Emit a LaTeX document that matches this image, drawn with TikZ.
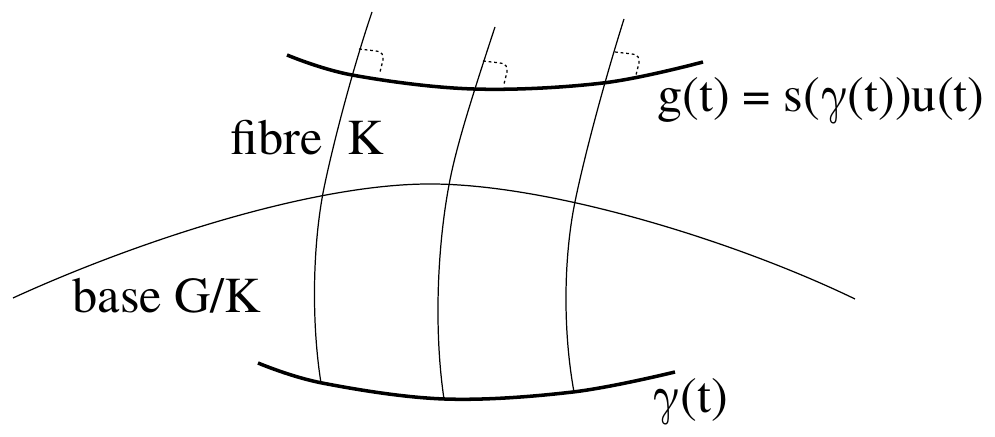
\documentclass[tikz,border=0pt]{standalone}
\usepackage{fontspec}
\newfontfamily\lblfont{texgyretermes-regular.otf}

\tikzset{
  curvebold/.style={line width=1pt},
  fibreline/.style={line width=0.35pt},
  rightmark/.style={line width=0.35pt, dash pattern=on 0.8pt off 0.8pt},
  lbl/.style={inner sep=0pt, anchor=base west, font=\lblfont\fontsize{14.3}{17}\selectfont}
}

\begin{document}
\begin{tikzpicture}
    \useasboundingbox (0,0) rectangle (9.95,4.37);

    % base G/K
    \draw[fibreline] (0.13,1.39) .. controls (1.33,1.94) and (3.10,2.53) .. (4.30,2.53)
        .. controls (5.50,2.53) and (7.35,1.96) .. (8.55,1.38);

    % the three fibres
    \draw[fibreline] (3.72,4.25) .. controls (3.50,3.60) and (3.30,2.80) .. (3.23,2.44)
        .. controls (3.12,1.85) and (3.12,1.10) .. (3.21,0.54);
    \draw[fibreline] (4.95,4.10) .. controls (4.72,3.40) and (4.56,2.90) .. (4.49,2.52)
        .. controls (4.37,1.88) and (4.34,1.05) .. (4.44,0.38);
    \draw[fibreline] (6.24,4.18) .. controls (6.02,3.48) and (5.84,2.78) .. (5.76,2.40)
        .. controls (5.63,1.80) and (5.63,1.05) .. (5.74,0.45);

    % g(t) and gamma(t)
    \draw[curvebold] plot[smooth, tension=0.6] coordinates {(2.87,3.82) (3.52,3.62) (4.73,3.48) (6.03,3.54) (7.03,3.75)};
    \draw[curvebold] plot[smooth, tension=0.6] coordinates {(2.58,0.74) (3.22,0.54) (4.44,0.38) (5.73,0.45) (6.75,0.65)};

    % right angles
    \foreach \x/\y in {3.59/3.88, 4.83/3.76, 6.15/3.85} {
        \draw[rightmark] (\x,\y) -- ++(0.17,-0.02) .. controls ++(0.07,-0.01) and ++(0,0.05) .. ++(0.07,-0.09) -- ++(-0.03,-0.12);
    }

    \node[lbl] (fibre) at (2.30,2.82) {fibre\enspace K};
    \node[lbl] (base) at (0.72,1.24) {base G/K};
    \node[lbl] (gt) at (6.57,3.25) {g(t) = s(γ(t))u(t)};
    \node[lbl] (gamma) at (6.52,0.24) {γ(t)};
\end{tikzpicture}
\end{document}
